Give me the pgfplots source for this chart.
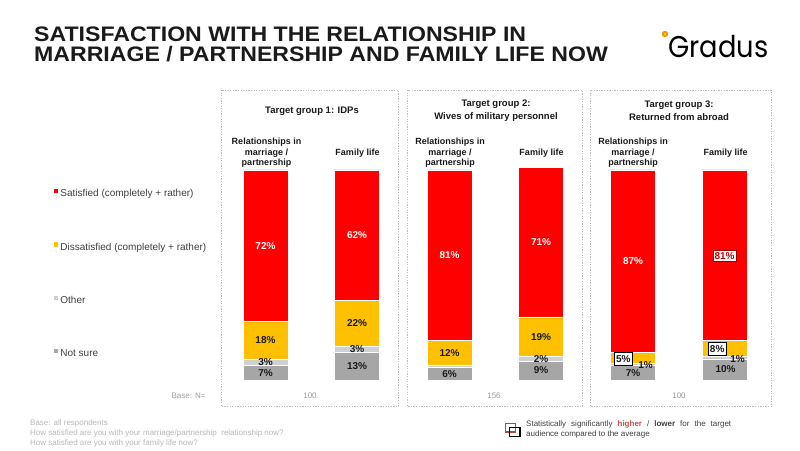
\documentclass[border=0pt]{standalone}
\usepackage{pgfplots}
\pgfplotsset{compat=1.18}
\usepackage{fontspec}
\setmainfont{Liberation Sans}
\newfontfamily\logofont[FakeStretch=0.91]{Poppins}
\newfontfamily\titlefont[FakeStretch=1.1]{Liberation Sans}
\definecolor{cRed}{HTML}{FF0000}
\definecolor{cYel}{HTML}{FFC000}
\definecolor{cOth}{HTML}{D0D0D0}
\definecolor{cNs}{HTML}{A6A6A6}
\definecolor{txt}{HTML}{1A1A1A}
\definecolor{leg}{HTML}{404040}
\definecolor{foot}{HTML}{B8B8B8}
\definecolor{hiRed}{HTML}{C0504D}
\definecolor{cOrange}{HTML}{F39200}
\definecolor{panel}{HTML}{BDBDBD}
\begin{document}
\begin{tikzpicture}
\fill[white] (0,0) rectangle (800pt,450pt);
% ---------------- bars ----------------
\begin{axis}[
  at={(0,0)}, anchor=south west,
  width=800pt, height=450pt, scale only axis,
  xmin=0, xmax=800, ymin=-33.3333, ymax=180.9524,
  hide axis, clip=false,
  ybar stacked, bar width=45pt,
  reverse legend,
  legend cell align=left,
  legend image code/.code={\path[#1,draw=none] (0pt,0.9pt) rectangle (4.2pt,5.1pt);},
  legend style={at={(rel axis cs:0.0675,0.5822)}, anchor=north west,
    draw=none, fill=none, inner sep=0pt, row sep=41.3pt, column sep=1pt,
    font=\fontsize{10}{12}\selectfont, text=leg,
    nodes={inner sep=1pt, text height=7.5pt, text depth=2.5pt}},
]
\addplot[fill=cNs, draw=white, line width=0.8pt] coordinates {(265.5,7) (357,13) (449.5,6) (541,9) (633,7) (725,10)};
\addlegendentry{Not sure}
\addplot[fill=cOth, draw=white, line width=0.8pt] coordinates {(265.5,3) (357,3) (449.5,1) (541,2) (633,1) (725,1)};
\addlegendentry{Other}
\addplot[fill=cYel, draw=white, line width=0.8pt] coordinates {(265.5,18) (357,22) (449.5,12) (541,19) (633,5) (725,8)};
\addlegendentry{Dissatisfied (completely + rather)}
\addplot[fill=cRed, draw=white, line width=0.8pt] coordinates {(265.5,72) (357,62) (449.5,81) (541,71) (633,87) (725,81)};
\addlegendentry{Satisfied (completely + rather)}
\end{axis}
% ---------------- value labels ----------------
\begin{axis}[
  at={(0,0)}, anchor=south west,
  width=800pt, height=450pt, scale only axis,
  xmin=0, xmax=800, ymin=-33.3333, ymax=180.9524,
  hide axis, clip=false,
  nodes near coords, point meta=explicit symbolic,
  nodes near coords style={anchor=center, font=\fontsize{10}{12}\bfseries\selectfont, inner sep=1pt},
]
\addplot[draw=none, mark=none, nodes near coords style={text=white}] coordinates {
 (265.5,64) [72\%] (357,69) [62\%] (449.5,59.5) [81\%] (541,65.5) [71\%] (633,56.5) [87\%]};
\addplot[draw=none, mark=none, nodes near coords style={text=txt}] coordinates {
 (265.5,19) [18\%] (265.5,8.6) [3\%] (265.5,3.3) [7\%]
 (357,27) [22\%] (357,14.5) [3\%] (357,6.5) [13\%]
 (449.5,13) [12\%] (449.5,3) [6\%]
 (541,20.5) [19\%] (541,10) [2\%] (541,4.5) [9\%]
 (633,3.3) [7\%] (645.5,7.1) [1\%]
 (725.5,5) [10\%] (737.5,10) [1\%]};
\addplot[draw=none, mark=none, nodes near coords style={text=txt, draw=black, fill=white, line width=0.7pt, inner xsep=2pt, inner ysep=2.8pt}] coordinates {
 (623.3,10.1) [5\%] (717.2,14.8) [8\%]};
\addplot[draw=none, mark=none, nodes near coords style={text=red!75!black, draw=red!60!black, fill=white, line width=0.4pt, inner xsep=1.5pt, inner ysep=1.8pt}] coordinates {
 (724.5,59.1) [81\%]};
\end{axis}
% ---------------- decorations (pixel coordinates, y downwards) ----------------
\begin{scope}[x=1pt, y=-1pt, yshift=450pt]
 % title
 \node[anchor=base west, inner sep=0pt, text=txt, font=\titlefont\fontsize{21}{22}\bfseries\selectfont] at (34,41.3) {SATISFACTION WITH THE RELATIONSHIP IN};
 \node[anchor=base west, inner sep=0pt, text=txt, font=\titlefont\fontsize{21}{22}\bfseries\selectfont] at (34,61.3) {MARRIAGE / PARTNERSHIP AND FAMILY LIFE NOW};
 % logo
 \fill[cOrange] (665,34) circle (3.2pt);
 \fill[yellow!70!orange] (665,34) circle (1.4pt);
 \node[anchor=base west, inner sep=0pt, text=black, font=\logofont\fontsize{30}{30}\selectfont] at (668,57.5) {Gradus};
 % panels
 \draw[panel, dash pattern=on 1.3pt off 1.3pt, line width=0.6pt] (221,90) rectangle (398.5,406.5);
 \draw[panel, dash pattern=on 1.3pt off 1.3pt, line width=0.6pt] (407.5,90) rectangle (582.5,406.5);
 \draw[panel, dash pattern=on 1.3pt off 1.3pt, line width=0.6pt] (590.5,90) rectangle (771.5,406.5);
 % group headers
 \node[text=txt, font=\fontsize{9.5}{12.5}\bfseries\selectfont, align=center] at (312,111.5) {Target group 1: IDPs};
 \node[text=txt, font=\fontsize{9.5}{12.5}\bfseries\selectfont, align=center] at (496,110.5) {Target group 2:\\Wives of military personnel};
 \node[text=txt, font=\fontsize{9.5}{12.5}\bfseries\selectfont, align=center] at (679,110.5) {Target group 3:\\Returned from abroad};
 % category headers
 \foreach \cx/\fx in {266.5/357.5, 450/541.5, 633/725.5}{
   \node[text=txt, font=\fontsize{9}{10.7}\bfseries\selectfont, align=center] at (\cx,152.7) {Relationships in\\marriage /\\partnership};
   \node[text=txt, font=\fontsize{9}{10.7}\bfseries\selectfont] at (\fx,152.7) {Family life};
 }
 % base
 \node[anchor=east, text=foot!85!black, font=\fontsize{8}{10}\selectfont] at (209,396) {Base: N=};
 \node[text=foot!85!black, font=\fontsize{8}{10}\selectfont] at (310,396) {100};
 \node[text=foot!85!black, font=\fontsize{8}{10}\selectfont] at (494,396) {156};
 \node[text=foot!85!black, font=\fontsize{8}{10}\selectfont] at (679,396) {100};
 % footnote
 \node[anchor=north west, inner sep=0pt, text=foot, font=\fontsize{8}{10}\selectfont, align=left] at (30,420)
   {Base: all respondents\\How satisfied are you with your marriage/partnership\ \ relationship now?\\How satisfied are you with your family life now?};
 % significance legend
 \draw[hiRed!90!black, line width=1.1pt] (505.5,423.5) rectangle (515.5,432);
 \draw[black, line width=1.1pt] (509.5,427.5) rectangle (520,436.5);
 \node[anchor=north west, inner sep=0pt, text=leg, font=\fontsize{8}{10}\selectfont, align=left] at (526,421)
   {\makebox[205pt][s]{Statistically significantly \textcolor{hiRed}{\textbf{higher}} / \textbf{lower} for the target}\\audience compared to the average};
\end{scope}
\end{tikzpicture}
\end{document}
